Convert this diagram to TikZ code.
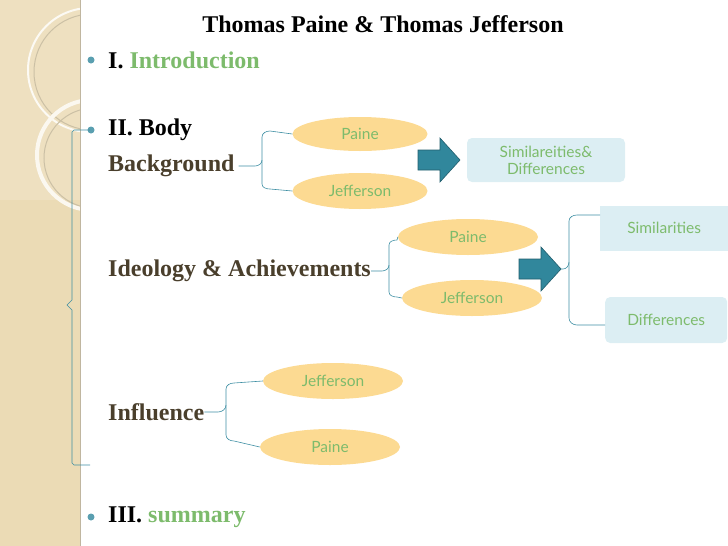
\documentclass[tikz,border=0pt]{standalone}
\usepackage{fontspec}
\setmainfont{Liberation Serif}
\newfontfamily\gill{Lato}
\usetikzlibrary{shapes.geometric}
\definecolor{teal1}{HTML}{31879C}
\definecolor{oval}{HTML}{FCDA92}
\definecolor{lbox}{HTML}{DCEEF3}
\definecolor{gtext}{HTML}{7DBB6C}
\definecolor{brown1}{HTML}{4A3F2C}
\definecolor{beige}{HTML}{EBDBB5}
\definecolor{brc}{HTML}{3F8FA3}
\begin{document}
\begin{tikzpicture}[x=1pt,y=-1pt,
  ov/.style={ellipse,fill=oval,minimum width=140pt,minimum height=36pt,inner sep=0pt,font=\gill\fontsize{15.5}{16}\selectfont,text=gtext},
  lb/.style={fill=lbox,rounded corners=5pt,font=\gill\fontsize{15.5}{17}\selectfont,text=gtext,align=center,inner sep=0pt},
  arr/.style={fill=teal1,draw=teal1!70!black,line width=0.6pt},
  brc/.style={draw=brc,line width=0.6pt},
  hd/.style={font=\bfseries\fontsize{24}{26}\selectfont,text=brown1,anchor=west,inner sep=0pt},
  bul/.style={circle,fill=teal1!80,minimum size=7pt,inner sep=0pt}]
\useasboundingbox (0,0) rectangle (728,546);
% left strip
\fill[beige] (0,0) rectangle (80,546);
\fill[beige!85!white] (0,0) rectangle (80,200);
\begin{scope}
\clip (0,0) rectangle (80,546);
\draw[white!85!beige,line width=2pt] (90,70) circle (62);
\draw[beige!70!gray,line width=1pt] (92,72) circle (58);
\draw[white!80!beige,line width=4pt] (92,155) circle (55);
\draw[beige!70!gray,line width=1pt] (94,158) circle (50);
\end{scope}
\draw[beige!60!gray] (80,0) -- (80,546);
% title
\node[font=\bfseries\fontsize{24}{26}\selectfont] (title) at (383,24) {Thomas Paine \& Thomas Jefferson};
% bullets
\node[bul] (b1) at (91,60) {};
\node[hd,text=black] (intro) at (108,60) {I. \textcolor{gtext}{Introduction}};
\node[bul] (b2) at (91,130) {};
\node[hd,text=black] (body) at (108,130) {II. Body};
\node[bul] (b3) at (91,517) {};
\node[hd,text=black] (summ) at (108,517) {III. \textcolor{gtext}{summary}};
% big brace
\draw[brc] (90,130) -- (74,130) -- (72,132) -- (72,300) -- (67,305) -- (72,310) -- (72,463) -- (74,465) -- (90,465);
% Background
\node[hd] (bg) at (108,166) {Background};
\node[ov,minimum width=135pt,minimum height=34pt] (p1) at (360,134) {Paine};
\node[ov,minimum width=135pt,minimum height=36pt] (j1) at (360,191) {Jefferson};
\draw[brc] (bg.east) ++(4,0) coordinate (t1) -- (255,166)
  to[out=0,in=270] (262,160) -- (262,137) to[out=90,in=180] (270,131) -- (p1.west);
\draw[brc] (262,160) -- (262,184) to[out=270,in=180] (270,189) -- (j1.west);
\coordinate (a1) at (418,160);
\draw[arr] (a1) ++(0,-10) -- ++(22,0) -- ++(0,-12) -- ++(20,22) -- ++(-20,22) -- ++(0,-12) -- ++(-22,0) -- cycle;
\node[lb,minimum width=158pt,minimum height=44pt] (s1) at (546,160) {Similareities\&\\Differences};
% Ideology
\node[hd] (ideo) at (108,271) {Ideology \& Achievements};
\node[ov] (p2) at (468,237) {Paine};
\node[ov] (j2) at (472,298) {Jefferson};
\draw[brc] (ideo.east) -- (382,271) to[out=0,in=270] (389,265) -- (389,245) to[out=90,in=180] (397,240) -- (p2.west);
\draw[brc] (389,265) -- (389,292) to[out=270,in=180] (397,297) -- (j2.west);
\coordinate (a2) at (519,269);
\draw[arr] (a2) ++(0,-10) -- ++(22,0) -- ++(0,-12) -- ++(20,22) -- ++(-20,22) -- ++(0,-12) -- ++(-22,0) -- cycle;
\node[lb,rounded corners=0pt,minimum width=128pt,minimum height=45pt,anchor=west] (sim) at (600,228) {Similarities};
\node[lb,minimum width=122pt,minimum height=46pt,anchor=west] (dif) at (605,320) {Differences};
\draw[brc] (561,269) -- (563,269) to[out=0,in=270] (569,262) -- (569,221) to[out=90,in=180] (577,215) -- (sim.west |- 0,215);
\draw[brc] (569,262) -- (569,318) to[out=270,in=180] (577,325) -- (dif.west |- 0,325);
% Influence
\node[hd] (infl) at (108,412) {Influence};
\node[ov] (j3) at (333,381) {Jefferson};
\node[ov] (p3) at (330,447) {Paine};
\draw[brc] (infl.east) -- (218,412) to[out=0,in=270] (226,405) -- (226,389) to[out=90,in=180] (234,383) -- (j3.west);
\draw[brc] (226,405) -- (226,435) to[out=270,in=180] (234,441) -- (p3.west);
\end{tikzpicture}
\end{document}
